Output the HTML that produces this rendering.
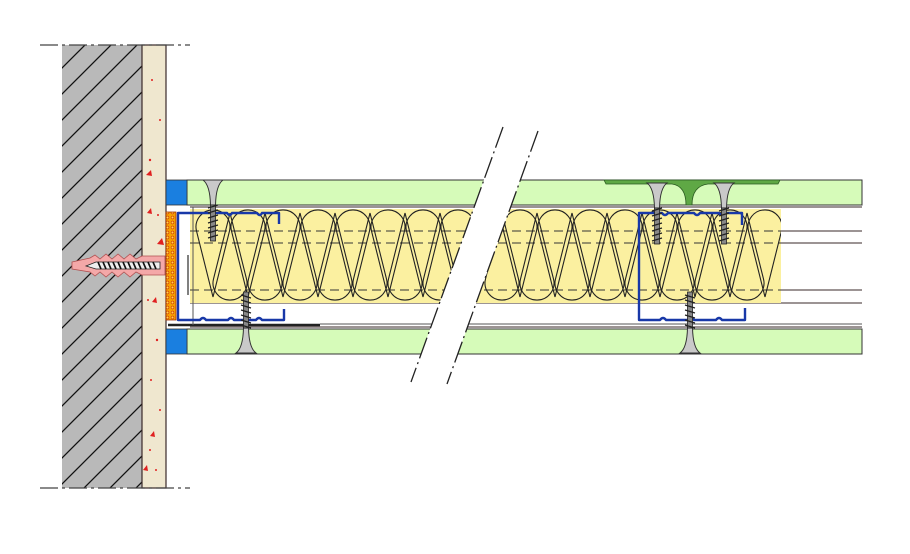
<!DOCTYPE html>
<html><head><meta charset="utf-8"><style>html,body{margin:0;padding:0;background:#fff}svg{display:block}</style></head><body>
<svg width="910" height="554" viewBox="0 0 910 554" xmlns="http://www.w3.org/2000/svg">
<defs>
<pattern id="hatch" patternUnits="userSpaceOnUse" width="26" height="26">
<rect width="26" height="26" fill="#b9b9b9"/>
<path d="M0,26 L26,0 M-3,3 L3,-3 M23,29 L29,23" stroke="#111" stroke-width="1.3"/>
</pattern>
<pattern id="fire" patternUnits="userSpaceOnUse" width="5" height="5">
<rect width="5" height="5" fill="#f5a000"/><circle cx="2.5" cy="2.5" r="1.4" fill="#ffd84a" stroke="#d03000" stroke-width="0.6"/>
</pattern>
<clipPath id="cl"><polygon points="190,205 475,205 440,305 190,305"/></clipPath>
<clipPath id="cr"><polygon points="509,205 781,205 781,305 475,305"/></clipPath>
<g id="tt"><path d="M-16.5,231 A17,17 0 1 1 16.5,231 L0,297 Z" fill="none" stroke="#222" stroke-width="1.1"/></g>
<g id="bt"><path d="M-16.5,279 A17,17 0 1 0 16.5,279 L0,213 Z" fill="none" stroke="#222" stroke-width="1.1"/></g>
<g id="scr">
<path d="M-10,0 L10,0 Q3,5 2.5,25 L-2.5,25 Q-3,5 -10,0 Z" fill="#c9c9c9" stroke="#333" stroke-width="1"/>
<rect x="-2.5" y="25" width="5" height="36" fill="#888" stroke="#222" stroke-width="0.8"/>
<path d="M-5,28 L5,25 M-5,33 L5,30 M-5,38 L5,35 M-5,43 L5,40 M-5,48 L5,45 M-5,53 L5,50 M-5,58 L5,55" stroke="#222" stroke-width="1.2"/>
</g>
</defs>

<!-- wall -->
<rect x="62" y="45" width="80" height="443" fill="url(#hatch)"/>
<rect x="142" y="45" width="24" height="443" fill="#efe7cf" stroke="#3a2a2a" stroke-width="1.2"/>
<g fill="#e02020">
<circle cx="152" cy="80" r="1"/><circle cx="160" cy="120" r="1"/><circle cx="150" cy="160" r="1.2"/><circle cx="158" cy="215" r="1"/><circle cx="148" cy="300" r="1"/><circle cx="157" cy="340" r="1.2"/><circle cx="151" cy="380" r="1"/><circle cx="160" cy="410" r="1"/><circle cx="150" cy="450" r="1"/><circle cx="156" cy="470" r="1"/>
<path d="M146,175 l5,-5 l1,6 z M147,213 l4,-5 l1,6 z M152,302 l4,-5 l1,6 z M150,436 l4,-5 l1,6 z M143,470 l4,-5 l1,6 z M157,244 l5,-6 l2,7 z"/>
</g>
<path d="M40,45 H190 M40,488 H190" stroke="#444" stroke-width="1.3" stroke-dasharray="18,4,3,4"/>

<!-- anchor -->
<path d="M72,262 L90,258 L95,255 L100,259 L106,254 L112,259 L118,254 L124,259 L130,254 L136,259 L142,256 L165,256 L165,275 L142,275 L136,272 L130,277 L124,272 L118,277 L112,272 L106,277 L100,272 L95,276 L90,272 L72,269 Z" fill="#f4a8a8" stroke="#b05050" stroke-width="0.8"/>
<path d="M86,266 L96,262 L160,262 L160,269 L96,269 Z" fill="#eee" stroke="#222" stroke-width="0.8"/>
<path d="M98,262 L101,269 M103,262 L106,269 M108,262 L111,269 M113,262 L116,269 M118,262 L121,269 M123,262 L126,269 M128,262 L131,269 M133,262 L136,269 M138,262 L141,269 M143,262 L146,269 M148,262 L151,269 M153,262 L156,269" stroke="#111" stroke-width="1.6"/>

<!-- boards -->
<rect x="187" y="180" width="675" height="25" fill="#d6fbb9" stroke="#333" stroke-width="1"/>
<rect x="187" y="329" width="675" height="25" fill="#d6fbb9" stroke="#333" stroke-width="1"/>
<rect x="166" y="180" width="21" height="25" fill="#1a7fe0" stroke="#333" stroke-width="0.8"/>
<rect x="166" y="329" width="21" height="25" fill="#1a7fe0" stroke="#333" stroke-width="0.8"/>
<path d="M604,180 L780,180 L778,184 L708,184 Q692,186 692,205 L686,205 Q686,186 672,184 L606,184 Z" fill="#5fa845" stroke="#2a5a20" stroke-width="0.8"/>

<g stroke="#3a2a2a" stroke-width="1.1">
<path d="M190,207 H862 M190,231 H862 M190,243 H862 M190,290 H862 M190,303 H862 M190,327 H862"/>
</g>
<path d="M168,325 H320" stroke="#222" stroke-width="2.5"/>
<path d="M320,324 H862" stroke="#555" stroke-width="1"/>

<g clip-path="url(#cl)">
<rect x="190" y="209" width="300" height="94" fill="#fbf0a0"/>
<g stroke="#333" stroke-width="1" stroke-dasharray="9,5" fill="none"><path d="M190,231 H480 M190,243 H480 M190,290 H480"/></g>
<use href="#tt" x="213"/><use href="#tt" x="248"/><use href="#tt" x="283"/><use href="#tt" x="318"/><use href="#tt" x="353"/><use href="#tt" x="388"/><use href="#tt" x="423"/><use href="#tt" x="458"/>
<use href="#bt" x="230"/><use href="#bt" x="265"/><use href="#bt" x="300"/><use href="#bt" x="335"/><use href="#bt" x="370"/><use href="#bt" x="405"/><use href="#bt" x="440"/>
</g>
<g clip-path="url(#cr)">
<rect x="470" y="209" width="311" height="94" fill="#fbf0a0"/>
<g stroke="#333" stroke-width="1" stroke-dasharray="9,5" fill="none"><path d="M470,231 H781 M470,243 H781 M470,290 H781"/></g>
<use href="#tt" x="765"/><use href="#tt" x="730"/><use href="#tt" x="695"/><use href="#tt" x="660"/><use href="#tt" x="625"/><use href="#tt" x="590"/><use href="#tt" x="555"/><use href="#tt" x="520"/>
<use href="#bt" x="747"/><use href="#bt" x="712"/><use href="#bt" x="677"/><use href="#bt" x="642"/><use href="#bt" x="607"/><use href="#bt" x="572"/><use href="#bt" x="537"/><use href="#bt" x="502"/>
</g>
<path d="M193,207 V325" stroke="#555" stroke-width="1"/>

<rect x="166" y="212" width="10" height="108" fill="url(#fire)" stroke="#a03000" stroke-width="0.8"/>

<g fill="none" stroke="#1838a8" stroke-width="2.4" stroke-linejoin="round">
<path d="M279,224 V213 L262,213 Q260,217 257,213 L232,213 Q230,217 227,213 L178,213 V320 L200,320 Q203,316 206,320 L228,320 Q231,316 234,320 L256,320 Q259,316 262,320 L284,320 V309"/>
<path d="M188,255 V295" stroke="#555" stroke-width="1.5"/>
<path d="M742,225 V213 L725,213 Q722,217 719,213 L700,213 Q697,217 694,213 L668,213 Q665,217 662,213 L639,213 V320 L660,320 Q663,316 666,320 L688,320 Q691,316 694,320 L716,320 Q719,316 722,320 L745,320 V308"/>
</g>

<use href="#scr" x="213" y="180"/>
<use href="#scr" x="657" y="183"/>
<use href="#scr" x="724" y="183"/>
<g transform="translate(246,353) scale(1,-1)"><use href="#scr"/></g>
<g transform="translate(690,353) scale(1,-1)"><use href="#scr"/></g>

<polygon points="503,127 538,131 447,384 411,382" fill="#fff"/>
<path d="M503,127 L411,382 M538,131 L447,384" stroke="#222" stroke-width="1.3" stroke-dasharray="22,4,2,4"/>
</svg>
</body></html>
